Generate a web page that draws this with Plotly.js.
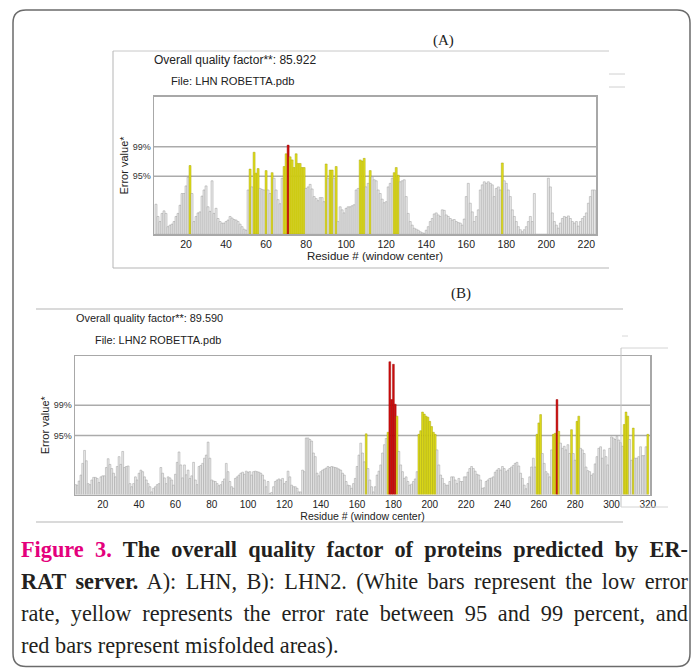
<!DOCTYPE html>
<html><head><meta charset="utf-8">
<script src="https://cdn.plot.ly/plotly-3.0.1.min.js"></script>
<style>html,body{margin:0;padding:0;background:#fff;} #chart{width:697px;height:668px;}</style>
</head><body><div id="chart"></div>
<script>
// ---- Data (ERRAT error values per window-center residue) ----
const firstResidueA = 5;
const errorA = [
  5.9, 3.5, 2.5, 4.1, 4.6, 4.1, 1.5, 1.8, 2.0, 2.5,
  3.5, 4.1, 5.7, 8.0, 8.0, 9.5, 11.2, 13.5, 8.0, 2.5,
  3.5, 4.2, 4.4, 7.5, 8.7, 9.5, 5.4, 4.5, 10.5, 4.1,
  5.1, 3.1, 2.5, 2.2, 2.2, 2.5, 2.8, 3.5, 3.2, 2.9,
  2.8, 2.5, 2.0, 1.5, 1.0, 0.8, 8.7, 12.8, 9.3, 16.1,
  12.0, 12.9, 9.0, 8.8, 8.7, 12.5, 8.7, 8.0, 12.1, 11.0,
  8.7, 6.8, 6.0, 11.0, 13.3, 15.8, 17.5, 15.2, 14.6, 13.1,
  15.8, 13.9, 13.9, 13.1, 13.1, 9.0, 9.3, 9.8, 8.9, 7.4,
  7.0, 6.6, 7.2, 7.2, 6.4, 13.8, 11.0, 12.6, 12.6, 11.0,
  13.3, 2.5, 5.4, 4.8, 4.2, 5.1, 5.4, 5.4, 5.6, 5.8,
  8.7, 9.0, 14.6, 14.4, 14.9, 9.3, 10.0, 12.5, 11.3, 10.7,
  10.5, 8.7, 8.0, 6.9, 6.2, 6.4, 9.3, 10.0, 11.0, 12.1,
  13.1, 11.6, 10.3, 10.5, 10.7, 7.4, 4.1, 2.5, 1.8, 1.2,
  1.0, 0.8, 0.5, 0.3, 0.2, 0.8, 1.5, 2.5, 3.1, 4.0,
  4.2, 3.8, 3.5, 4.8, 4.7, 3.8, 3.5, 3.1, 2.8, 2.9,
  2.5, 2.3, 2.2, 1.8, 3.0, 7.4, 10.0, 6.1, 4.4, 2.5,
  3.5, 4.8, 8.7, 9.7, 10.3, 10.0, 10.3, 10.0, 9.7, 7.4,
  9.0, 9.3, 8.7, 14.0, 10.5, 10.0, 8.7, 7.4, 4.8, 3.5,
  2.5, 1.5, 0.9, 0.5, 0.9, 1.5, 2.5, 3.5, 2.5, 8.0,
  0, 0, 0, 0, 0, 0, 11.0, 9.3, 4.2, 2.5,
  1.8, 1.2, 2.2, 3.1, 3.5, 3.3, 3.6, 3.1, 2.5, 2.2,
  2.5, 1.6, 2.5, 3.1, 3.5, 4.2, 6.1, 7.4, 8.7, 8.7
];
const firstResidueB = 5;
const errorB = [
  1.9, 1.8, 2.6, 3.75, 6.0, 8.5, 6.5, 2.1, 1.9, 2.8,
  3.3, 3.3, 3.1, 2.3, 3.4, 3.6, 3.6, 5.2, 6.9, 5.8,
  5.0, 4.1, 3.4, 5.4, 7.3, 5.8, 8.3, 5.2, 5.4, 5.5,
  2.1, 1.5, 2.1, 3.4, 2.8, 4.1, 4.7, 4.4, 3.4, 2.8,
  2.1, 1.5, 0.5, 1.2, 1.5, 1.9, 2.1, 5.2, 4.1, 3.2,
  2.1, 3.4, 3.2, 2.8, 1.8, 3.9, 6.2, 8.2, 5.7, 3.2,
  5.7, 3.8, 4.7, 3.1, 3.6, 6.2, 2.8, 1.9, 5.4, 5.6,
  6.0, 7.0, 7.6, 10.1, 7.0, 2.8, 2.6, 2.5, 2.1, 1.7,
  1.9, 2.5, 3.0, 6.0, 4.4, 2.5, 1.5, 1.2, 3.1, 3.4,
  3.75, 4.1, 4.3, 3.9, 4.5, 4.3, 4.4, 3.75, 4.4, 4.5,
  4.4, 4.3, 4.1, 3.75, 2.8, 1.5, 2.5, 0.2, 0.4, 1.5,
  2.5, 2.8, 3.0, 2.8, 3.1, 2.1, 2.5, 4.5, 3.4, 1.8,
  1.5, 1.5, 1.2, 0.5, 0.5, 4.7, 4.4, 10.9, 10.9, 10.6,
  10.3, 8.0, 7.3, 4.1, 3.6, 4.4, 4.7, 4.9, 5.1, 5.4,
  5.2, 5.4, 5.3, 5.2, 5.1, 4.9, 4.7, 4.1, 3.75, 2.5,
  1.8, 1.7, 1.2, 2.1, 3.1, 5.4, 7.6, 9.9, 8.0, 6.3,
  11.7, 5.0, 2.8, 1.5, 0.5, 1.5, 3.75, 4.5, 5.7, 8.0,
  9.6, 10.8, 12.0, 25.6, 18.3, 25.1, 17.4, 15.1, 8.3, 5.7,
  4.4, 3.1, 3.4, 2.5, 1.8, 2.0, 2.5, 3.0, 4.4, 11.6,
  12.3, 15.9, 15.5, 15.1, 14.9, 14.1, 13.1, 12.0, 11.6, 8.6,
  5.7, 3.75, 3.1, 2.1, 1.8, 1.8, 2.5, 3.4, 3.4, 2.8,
  2.1, 3.1, 2.5, 2.5, 3.4, 3.4, 4.3, 5.0, 5.4, 5.0,
  4.5, 3.9, 3.75, 2.8, 1.2, 1.3, 2.5, 2.8, 3.1, 3.2,
  3.4, 4.3, 4.7, 5.0, 4.7, 5.4, 5.0, 4.4, 4.7, 5.0,
  5.3, 5.6, 6.0, 6.2, 5.5, 4.1, 3.1, 1.8, 1.1, 2.1,
  3.4, 5.3, 7.0, 5.3, 11.6, 13.8, 15.4, 7.9, 6.0, 4.4,
  4.0, 3.4, 8.6, 11.6, 11.8, 18.3, 12.2, 9.9, 8.9, 9.3,
  8.6, 9.6, 7.9, 12.5, 7.9, 6.6, 14.1, 15.1, 8.9, 8.6,
  7.9, 5.3, 4.6, 4.4, 3.7, 4.0, 5.9, 7.3, 8.9, 9.2,
  7.0, 8.6, 7.3, 5.7, 8.9, 11.1, 10.9, 10.6, 11.2, 10.5,
  10.0, 9.3, 13.5, 15.9, 15.1, 10.6, 6.6, 12.8, 7.0, 7.0,
  7.3, 9.2, 7.5, 7.5, 9.2, 11.6
];
const limit95 = 11.38;
const limit99 = 17.19;
const ticksA = [20, 40, 60, 80, 100, 120, 140, 160, 180, 200, 220];
const ticksB = [20, 40, 60, 80, 100, 120, 140, 160, 180, 200, 220, 240, 260, 280, 300, 320];
const limitLabels = ['95%', '99%'];

// ---- Helpers ----
const W = 697, H = 668;
const px = x => x / W;
const py = y => 1 - y / H;
const fillOf = v => v > limit99 ? '#cf0d0d' : (v > limit95 ? '#e2df1c' : '#ebebeb');
const edgeOf = v => v > limit99 ? '#9a0000' : (v > limit95 ? '#a29f00' : '#939393');
const residues = (start, arr) => arr.map((_, i) => start + i);

function barTrace(start, arr, xa, ya) {
  return {
    type: 'bar', x: residues(start, arr), y: arr, xaxis: xa, yaxis: ya,
    width: 1, hoverinfo: 'skip',
    marker: { color: arr.map(fillOf), line: { color: arr.map(edgeOf), width: 0.45 } }
  };
}

const sans = 'Liberation Sans';
const serif = 'Liberation Serif';

function xAxis(domain, range, ticks, tsize, titleSize) {
  return {
    domain: domain, range: range, tickvals: ticks, ticks: '', showgrid: false, zeroline: false,
    showline: true, mirror: true, linecolor: '#a8a8a8', linewidth: 1.5, fixedrange: true,
    tickfont: { family: sans, size: tsize, color: '#222' }, automargin: false,
    title: { text: 'Residue # (window center)', font: { family: sans, size: titleSize, color: '#222' }, standoff: 1 }
  };
}
function yAxis(domain, range, xa) {
  return {
    domain: domain, range: range, tickvals: [limit95, limit99], ticktext: limitLabels,
    ticks: '', showgrid: false, zeroline: false, showline: true, mirror: true,
    linecolor: '#a8a8a8', linewidth: 1.5, fixedrange: true, automargin: false,
    tickfont: { family: sans, size: 9, color: '#333' }, anchor: xa,
    title: { text: 'Error value*', font: { family: sans, size: 11, color: '#222' }, standoff: 2 }
  };
}

const gridLine = (xd, yr, v) => ({ type: 'line', xref: xd, yref: yr, x0: 0, x1: 1, y0: v, y1: v,
  line: { color: '#ababab', width: 1.5 }, layer: 'below' });
const seg = (x0, y0, x1, y1, c, w) => ({ type: 'line', xref: 'paper', yref: 'paper',
  x0: px(x0), y0: py(y0), x1: px(x1), y1: py(y1), line: { color: c, width: w } });

const L = 13, R = 690, T = 10, B = 666.5, r = 13;
const borderPath = `M ${px(L + r)} ${py(T)} L ${px(R - r)} ${py(T)} Q ${px(R)} ${py(T)} ${px(R)} ${py(T + r)} ` +
  `L ${px(R)} ${py(B - r)} Q ${px(R)} ${py(B)} ${px(R - r)} ${py(B)} L ${px(L + r)} ${py(B)} ` +
  `Q ${px(L)} ${py(B)} ${px(L)} ${py(B - r)} L ${px(L)} ${py(T + r)} Q ${px(L)} ${py(T)} ${px(L + r)} ${py(T)} Z`;

const shapes = [
  { type: 'path', xref: 'paper', yref: 'paper', path: borderPath, line: { color: '#6b6b6b', width: 1.5 } },
  gridLine('x domain', 'y', limit95), gridLine('x domain', 'y', limit99),
  gridLine('x2 domain', 'y2', limit95), gridLine('x2 domain', 'y2', limit99),
  seg(113, 51, 609, 51, '#c8c8c8', 1), seg(113, 51, 113, 268, '#b5b5b5', 1), seg(113, 268, 609, 268, '#b5b5b5', 1),
  seg(609, 74, 625, 74, '#d0d0d0', 1), seg(609, 87, 625, 87, '#d0d0d0', 1),
  seg(36, 309, 623, 309, '#b5b5b5', 1), seg(36, 522, 623, 522, '#b5b5b5', 1),
  seg(621, 348, 668, 348, '#d4d4d4', 1), seg(621, 348, 621, 507, '#c4c4c4', 1), seg(621, 507, 668, 507, '#d4d4d4', 1),
  seg(622, 336, 628, 336, '#d8d8d8', 1)
];

const ann = (x, y, text, size, fam, anchor, color) => ({ xref: 'paper', yref: 'paper', x: px(x), y: py(y),
  text: text, showarrow: false, xanchor: anchor || 'left', yanchor: 'middle', align: 'left',
  borderpad: 0, font: { family: fam, size: size, color: color || '#222' } });

const capColor = '#231f20';
const capSize = 22.3;
const annotations = [
  ann(443, 40, '(A)', 15, serif, 'center', '#222'),
  ann(153, 60, 'Overall quality factor**: 85.922', 12, sans),
  ann(170, 81, 'File: LHN ROBETTA.pdb', 11.2, sans),
  ann(461, 293, '(B)', 15, serif, 'center', '#222'),
  ann(75, 318, 'Overall quality factor**: 89.590', 10.9, sans),
  ann(94, 340, 'File: LHN2 ROBETTA.pdb', 10.9, sans),
  ann(20, 549, '<b><span style="color:#e4007c">Figure 3.</span> The overall quality factor of proteins predicted by ER-</b>', capSize, serif, 'left', capColor),
  ann(20, 581, '<b>RAT server.</b> A): LHN, B): LHN2. (White bars represent the low error', capSize, serif, 'left', capColor),
  ann(20, 613, 'rate, yellow represents the error rate between 95 and 99 percent, and', capSize, serif, 'left', capColor),
  ann(20, 645, 'red bars represent misfolded areas).', capSize, serif, 'left', capColor)
];

const layout = {
  width: W, height: H, margin: { l: 0, r: 0, t: 0, b: 0 },
  paper_bgcolor: '#ffffff', plot_bgcolor: '#ffffff', showlegend: false, bargap: 0,
  xaxis: xAxis([px(154), px(596)], [4.0, 224.8], ticksA, 10.5, 11.5),
  yaxis: yAxis([py(234.3), py(96.7)], [0, 27], 'x'),
  xaxis2: Object.assign(xAxis([px(75), px(650)], [4.75, 321.2], ticksB, 10, 10.5), { anchor: 'y2' }),
  yaxis2: yAxis([py(494.5), py(356)], [0, 26.7], 'x2'),
  shapes: shapes, annotations: annotations
};
layout.xaxis.anchor = 'y';

Plotly.newPlot('chart', [barTrace(firstResidueA, errorA, 'x', 'y'), barTrace(firstResidueB, errorB, 'x2', 'y2')],
  layout, { staticPlot: true, displayModeBar: false }).then(gd => {
  // justify the first three caption lines to the caption width, as in the printed figure
  const justifyWidth = 667;
  [6, 7, 8].forEach(i => {
    const t = gd.querySelector('g.annotation[data-index="' + i + '"] text.annotation-text');
    if (!t) return;
    const w = t.getComputedTextLength();
    const n = (t.textContent.match(/ /g) || []).length;
    if (n > 0 && w < justifyWidth) t.style.wordSpacing = ((justifyWidth - w) / n) + 'px';
  });
});
</script></body></html>
